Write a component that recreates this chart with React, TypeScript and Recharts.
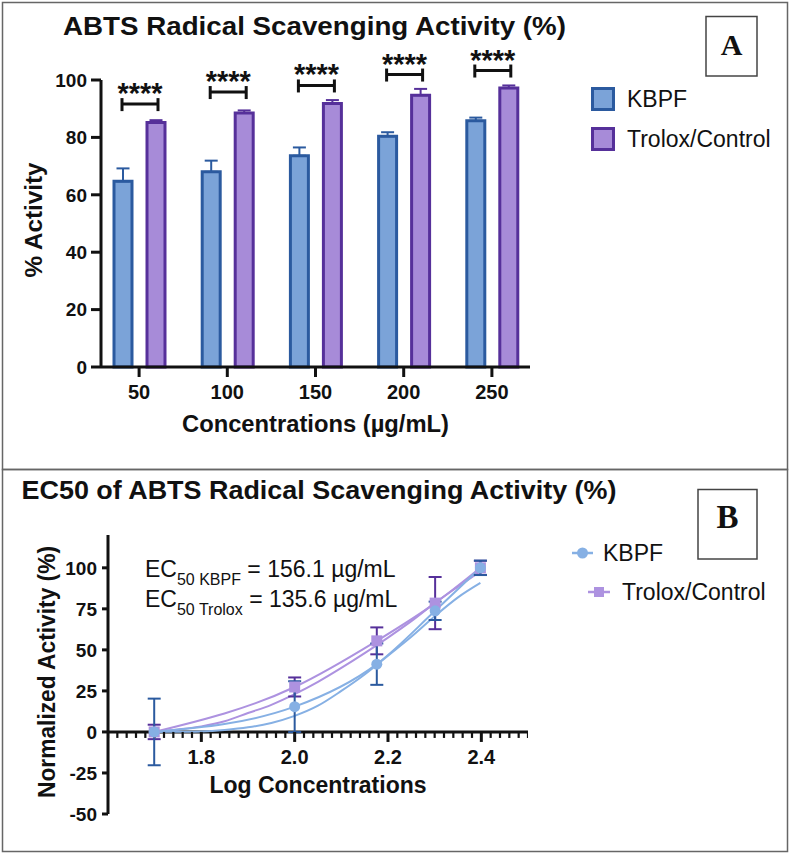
import React from "react";
import {
  Bar,
  BarChart,
  ComposedChart,
  ErrorBar,
  LabelList,
  Legend,
  Line,
  ReferenceLine,
  Scatter,
  XAxis,
  YAxis,
} from "recharts";

const FONT = '"Liberation Sans", Arial, Helvetica, sans-serif';
const SERIF = '"Liberation Serif", "Times New Roman", serif';

const KBPF_FILL = "#7ba3d8";
const KBPF_EDGE = "#2b5a9f";
const TROLOX_FILL = "#a78bd8";
const TROLOX_EDGE = "#56309a";
const KBPF_LINE = "#86b0e4";
const TROLOX_LINE = "#ad92e0";

// panel A: % activity by concentration
const concentrations = ["50", "100", "150", "200", "250"];
const kbpfActivity = [64.7, 68.0, 73.6, 80.4, 85.8];
const kbpfActivitySd = [4.5, 3.9, 2.9, 1.4, 1.1];
const troloxActivity = [85.2, 88.5, 91.8, 94.7, 97.2];
const troloxActivitySd = [0.8, 0.9, 1.2, 2.2, 0.9];
const bracketLevel = [91.6, 95.8, 98.1, 101.9, 103.3];
const activityTicks = [0, 20, 40, 60, 80, 100];

// panel B: normalized activity vs log concentration
const logConc = [1.699, 2.0, 2.176, 2.301, 2.398];
const kbpfNorm = [0, 15.4, 41.3, 73.8, 100];
const kbpfNormSd = [20.3, 15.5, 12.6, 5.6, 4.4];
const troloxNorm = [0, 27.4, 55.5, 78.5, 100];
const troloxNormSd = [4.4, 5.8, 8.2, 15.9, 4.3];
const fitLogConc = [1.699, 1.75, 1.8, 1.85, 1.9, 1.95, 2.0, 2.05, 2.1, 2.15, 2.2, 2.25, 2.3, 2.35, 2.398];
const kbpfFit = [0, 0.1, 0.3, 1.2, 2.8, 5.5, 9.8, 16, 25, 35, 46.5, 58, 70.5, 82, 90.8];
const troloxFit = [0, 1.5, 3.4, 6.5, 11.5, 16.5, 23, 30.5, 39, 48, 57.5, 67.5, 78.5, 88.5, 97.8];
const normTicks = [-50, -25, 0, 25, 50, 75, 100];
const xMajorTicks = [1.8, 2.0, 2.2, 2.4];
const xMinorTicks = Array.from({ length: 46 }, (_, i) => Number((1.6 + i * 0.02).toFixed(2)));

const BAR_SIZE = 18;
const BAR_GAP = 15;

const barData = concentrations.map((c, i) => ({
  conc: c,
  kbpf: kbpfActivity[i],
  kbpfErr: [0, kbpfActivitySd[i]],
  trolox: troloxActivity[i],
  troloxErr: [0, troloxActivitySd[i]],
}));

const kbpfPoints = logConc.map((x, i) => ({ x, y: kbpfNorm[i], sd: kbpfNormSd[i] }));
const troloxPoints = logConc.map((x, i) => ({ x, y: troloxNorm[i], sd: troloxNormSd[i] }));
const kbpfFitLine = fitLogConc.map((x, i) => ({ x, y: kbpfFit[i] }));
const troloxFitLine = fitLogConc.map((x, i) => ({ x, y: troloxFit[i] }));
const tickMarks = xMinorTicks.map((x) => ({ x, y: 0 }));

function Bracket(props: any) {
  const vb = props.viewBox && props.viewBox.width != null ? props.viewBox : props;
  const { x, y, width, height } = vb;
  const index = props.index ?? 0;
  const perUnit = height / troloxActivity[index];
  const ly = y + height - bracketLevel[index] * perUnit;
  const right = x + width / 2 + 2;
  const left = x + width / 2 - (BAR_SIZE + BAR_GAP) - 1;
  return (
    <g>
      <line x1={left} x2={right} y1={ly} y2={ly} stroke="#111" strokeWidth={3} />
      <line x1={left} x2={left} y1={ly - 6} y2={ly + 7} stroke="#111" strokeWidth={3} />
      <line x1={right} x2={right} y1={ly - 6} y2={ly + 7} stroke="#111" strokeWidth={3} />
      <text
        x={(left + right) / 2}
        y={ly - 1}
        textAnchor="middle"
        fontFamily={FONT}
        fontWeight={700}
        fontSize={30}
        textLength={45}
        lengthAdjust="spacingAndGlyphs"
        fill="#111"
      >
        ****
      </text>
    </g>
  );
}

function LegendA() {
  const items = [
    { name: "KBPF", fill: KBPF_FILL, edge: KBPF_EDGE },
    { name: "Trolox/Control", fill: TROLOX_FILL, edge: TROLOX_EDGE },
  ];
  return (
    <div style={{ fontFamily: FONT, fontSize: 23, color: "#111" }}>
      {items.map((it) => (
        <div key={it.name} style={{ display: "flex", alignItems: "center", height: 40 }}>
          <svg width={25} height={25} style={{ marginRight: 11 }}>
            <rect x={1.5} y={1.5} width={21} height={21} fill={it.fill} stroke={it.edge} strokeWidth={3} />
          </svg>
          <span>{it.name}</span>
        </div>
      ))}
    </div>
  );
}

function LegendB() {
  return (
    <div style={{ position: "relative", fontFamily: FONT, fontSize: 23, color: "#111", width: 220, height: 80 }}>
      <svg width={45} height={20} style={{ position: "absolute", left: 0, top: 3 }}>
        <line x1={2} x2={23} y1={10} y2={10} stroke={KBPF_LINE} strokeWidth={2.5} />
        <circle cx={12.5} cy={10} r={5.5} fill={KBPF_LINE} />
      </svg>
      <span style={{ position: "absolute", left: 33, top: 0, lineHeight: "26px" }}>KBPF</span>
      <svg width={45} height={20} style={{ position: "absolute", left: 16, top: 42 }}>
        <line x1={2} x2={24} y1={10} y2={10} stroke={TROLOX_LINE} strokeWidth={2.5} />
        <rect x={8} y={5} width={10} height={10} fill={TROLOX_LINE} />
      </svg>
      <span style={{ position: "absolute", left: 52, top: 39, lineHeight: "26px" }}>Trolox/Control</span>
    </div>
  );
}

function KbpfDot(props: any) {
  const { cx, cy } = props;
  return <circle cx={cx} cy={cy} r={5.5} fill={KBPF_LINE} />;
}

function TroloxDot(props: any) {
  const { cx, cy } = props;
  return <rect x={cx - 5.5} y={cy - 5.5} width={11} height={11} fill={TROLOX_LINE} />;
}

function AxisMark(props: any) {
  const { cx, cy, payload } = props;
  const major = xMajorTicks.some((t) => Math.abs(t - payload.x) < 1e-6);
  return (
    <g>
      <line x1={cx} x2={cx} y1={cy} y2={cy + (major ? 10 : 6)} stroke="#111" strokeWidth={major ? 3 : 2.2} />
      {major && (
        <text x={cx} y={cy + 32} textAnchor="middle" fontFamily={FONT} fontWeight={700} fontSize={20} fill="#111">
          {payload.x.toFixed(1)}
        </text>
      )}
    </g>
  );
}

const tickStyle = { fill: "#111", fontSize: 19, fontWeight: 700, fontFamily: FONT };
const axisStroke = { stroke: "#111", strokeWidth: 3 };

export default function App() {
  return (
    <div style={{ position: "absolute", left: 0, top: 0, width: 792, height: 854, background: "#fff" }}>
      <div style={{ position: "absolute", left: 0, top: 0 }}>
        <BarChart
          width={792}
          height={470}
          data={barData}
          margin={{ top: 80, right: 262, bottom: 43, left: 41 }}
          barSize={BAR_SIZE}
          barGap={BAR_GAP}
        >
          <XAxis
            dataKey="conc"
            padding={{ left: -6, right: -6 }}
            height={60}
            axisLine={axisStroke}
            tickLine={axisStroke}
            tickSize={10}
            tickMargin={8}
            tick={{ ...tickStyle, fontSize: 20 }}
          />
          <YAxis
            type="number"
            domain={[0, 100]}
            ticks={activityTicks}
            width={60}
            axisLine={axisStroke}
            tickLine={axisStroke}
            tickSize={10}
            tickMargin={4}
            tick={tickStyle}
          />
          <Legend
            layout="vertical"
            align="center"
            verticalAlign="middle"
            wrapperStyle={{ top: 79, left: 591, width: 200 }}
            content={() => <LegendA />}
          />
          <Bar dataKey="kbpf" name="KBPF" fill={KBPF_FILL} stroke={KBPF_EDGE} strokeWidth={3} isAnimationActive={false}>
            <ErrorBar dataKey="kbpfErr" direction="y" width={6.5} stroke={KBPF_EDGE} strokeWidth={2} />
          </Bar>
          <Bar
            dataKey="trolox"
            name="Trolox/Control"
            fill={TROLOX_FILL}
            stroke={TROLOX_EDGE}
            strokeWidth={3}
            isAnimationActive={false}
          >
            <ErrorBar dataKey="troloxErr" direction="y" width={6.5} stroke={TROLOX_EDGE} strokeWidth={2} />
            <LabelList dataKey="trolox" content={Bracket} />
          </Bar>
        </BarChart>
      </div>

      <div style={{ position: "absolute", left: 0, top: 470 }}>
        <ComposedChart width={792} height={384} margin={{ top: 65, right: 264, bottom: 40, left: 48 }}>
          <XAxis type="number" dataKey="x" domain={[1.6, 2.5]} allowDataOverflow hide />
          <YAxis
            type="number"
            dataKey="y"
            domain={[-50, 120]}
            ticks={normTicks}
            width={60}
            axisLine={axisStroke}
            tickLine={axisStroke}
            tickSize={6}
            tickMargin={5}
            tick={tickStyle}
          />
          <ReferenceLine y={0} stroke="#111" strokeWidth={3} />
          <Legend
            layout="vertical"
            align="center"
            verticalAlign="middle"
            wrapperStyle={{ top: 70, left: 570, width: 220 }}
            content={() => <LegendB />}
          />
          <Scatter data={tickMarks} shape={AxisMark} isAnimationActive={false} legendType="none" />
          <Line data={troloxFitLine} dataKey="y" type="monotone" dot={false} stroke={TROLOX_LINE} strokeWidth={2} isAnimationActive={false} />
          <Line data={troloxPoints} dataKey="y" type="monotone" dot={false} stroke={TROLOX_LINE} strokeWidth={2} isAnimationActive={false} />
          <Line data={kbpfFitLine} dataKey="y" type="monotone" dot={false} stroke={KBPF_LINE} strokeWidth={2} isAnimationActive={false} />
          <Line data={kbpfPoints} dataKey="y" type="monotone" dot={false} stroke={KBPF_LINE} strokeWidth={2} isAnimationActive={false} />
          <Scatter data={troloxPoints} shape={TroloxDot} isAnimationActive={false}>
            <ErrorBar dataKey="sd" direction="y" width={6.5} stroke={TROLOX_EDGE} strokeWidth={2} />
          </Scatter>
          <Scatter data={kbpfPoints} shape={KbpfDot} isAnimationActive={false}>
            <ErrorBar dataKey="sd" direction="y" width={6.5} stroke={KBPF_EDGE} strokeWidth={2} />
          </Scatter>
        </ComposedChart>
      </div>

      <svg width={792} height={854} style={{ position: "absolute", left: 0, top: 0, pointerEvents: "none" }}>
        <rect x={2.5} y={2.5} width={785} height={467} fill="none" stroke="#666" strokeWidth={1.5} />
        <rect x={2.5} y={469.5} width={785} height={382} fill="none" stroke="#666" strokeWidth={1.5} />

        <text x={63} y={35} fontFamily={FONT} fontWeight={700} fontSize={26} textLength={503} lengthAdjust="spacingAndGlyphs" fill="#111">
          ABTS Radical Scavenging Activity (%)
        </text>
        <rect x={706} y={16.5} width={51} height={59.5} fill="#fff" stroke="#444" strokeWidth={1.5} />
        <text x={731.5} y={55} textAnchor="middle" fontFamily={SERIF} fontWeight={700} fontSize={30} fill="#111">
          A
        </text>
        <text x={315.5} y={432} textAnchor="middle" fontFamily={FONT} fontWeight={700} fontSize={23} textLength={267} lengthAdjust="spacingAndGlyphs" fill="#111">
          Concentrations (µg/mL)
        </text>
        <text transform="translate(42,220) rotate(-90)" textAnchor="middle" fontFamily={FONT} fontWeight={700} fontSize={23} textLength={115} lengthAdjust="spacingAndGlyphs" fill="#111">
          % Activity
        </text>

        <text x={21.5} y={499} fontFamily={FONT} fontWeight={700} fontSize={25} textLength={595} lengthAdjust="spacingAndGlyphs" fill="#111">
          EC50 of ABTS Radical Scavenging Activity (%)
        </text>
        <rect x={698} y={489.5} width={59} height={69.5} fill="#fff" stroke="#444" strokeWidth={1.5} />
        <text x={727.5} y={528} textAnchor="middle" fontFamily={SERIF} fontWeight={700} fontSize={33} fill="#111">
          B
        </text>
        <text x={318} y={793} textAnchor="middle" fontFamily={FONT} fontWeight={700} fontSize={23} textLength={217} lengthAdjust="spacingAndGlyphs" fill="#111">
          Log Concentrations
        </text>
        <text transform="translate(55,672) rotate(-90)" textAnchor="middle" fontFamily={FONT} fontWeight={700} fontSize={23} textLength={252} lengthAdjust="spacingAndGlyphs" fill="#111">
          Normalized Activity (%)
        </text>

        <text x={145} y={577} fontFamily={FONT} fontSize={23} fill="#111">
          EC<tspan fontSize={16} dy={8}>50 KBPF</tspan>
          <tspan dy={-8}> = 156.1 µg/mL</tspan>
        </text>
        <text x={145} y={607} fontFamily={FONT} fontSize={23} fill="#111">
          EC<tspan fontSize={16} dy={8}>50 Trolox</tspan>
          <tspan dy={-8}> = 135.6 µg/mL</tspan>
        </text>
      </svg>
    </div>
  );
}
